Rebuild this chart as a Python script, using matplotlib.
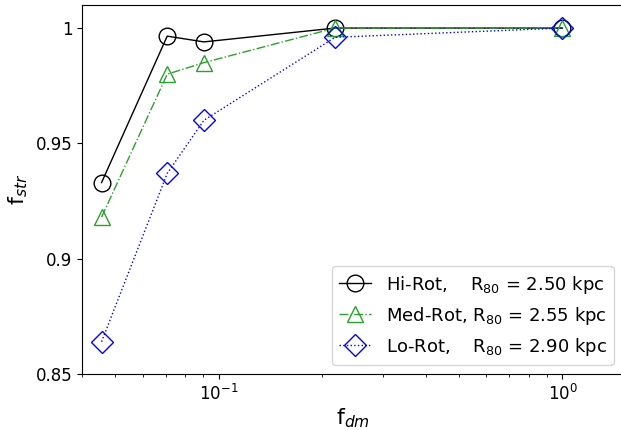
import matplotlib
matplotlib.use("Agg")
import matplotlib.pyplot as plt

f_dm = [0.0456, 0.0708, 0.0905, 0.218, 1.0]
hi_rot = [0.933, 0.9965, 0.994, 1.0, 1.0]
med_rot = [0.918, 0.980, 0.985, 1.0, 1.0]
lo_rot = [0.864, 0.937, 0.960, 0.996, 1.0]

fig = plt.figure(figsize=(6.21, 4.3), dpi=100)
ax = fig.add_axes([82/621, 56/430, 541/621, 369/430])

ax.plot(f_dm, hi_rot, "k-", marker="o", ms=12, mfc="none", lw=1,
        label="Hi-Rot,    R$_{80}$ = 2.50 kpc")
ax.plot(f_dm, med_rot, "-.", color="tab:green", marker="^", ms=12, mfc="none", lw=1,
        label="Med-Rot, R$_{80}$ = 2.55 kpc")
ax.plot(f_dm, lo_rot, ":", color="b", marker="D", ms=11, mfc="none", lw=1,
        label="Lo-Rot,    R$_{80}$ = 2.90 kpc")

ax.set_xscale("log")
ax.set_xlim(0.04, 1.5)
ax.set_ylim(0.85, 1.01)
ax.set_yticks([0.85, 0.9, 0.95, 1.0])
ax.set_yticklabels(["0.85", "0.9", "0.95", "1"])
ax.tick_params(labelsize=12)
ax.set_xlabel("f$_{dm}$", fontsize=16, labelpad=2)
ax.set_ylabel("f$_{str}$", fontsize=16)
ax.legend(loc="lower right", fontsize=13, handlelength=1.8)

fig.savefig("out.png", dpi=100)
